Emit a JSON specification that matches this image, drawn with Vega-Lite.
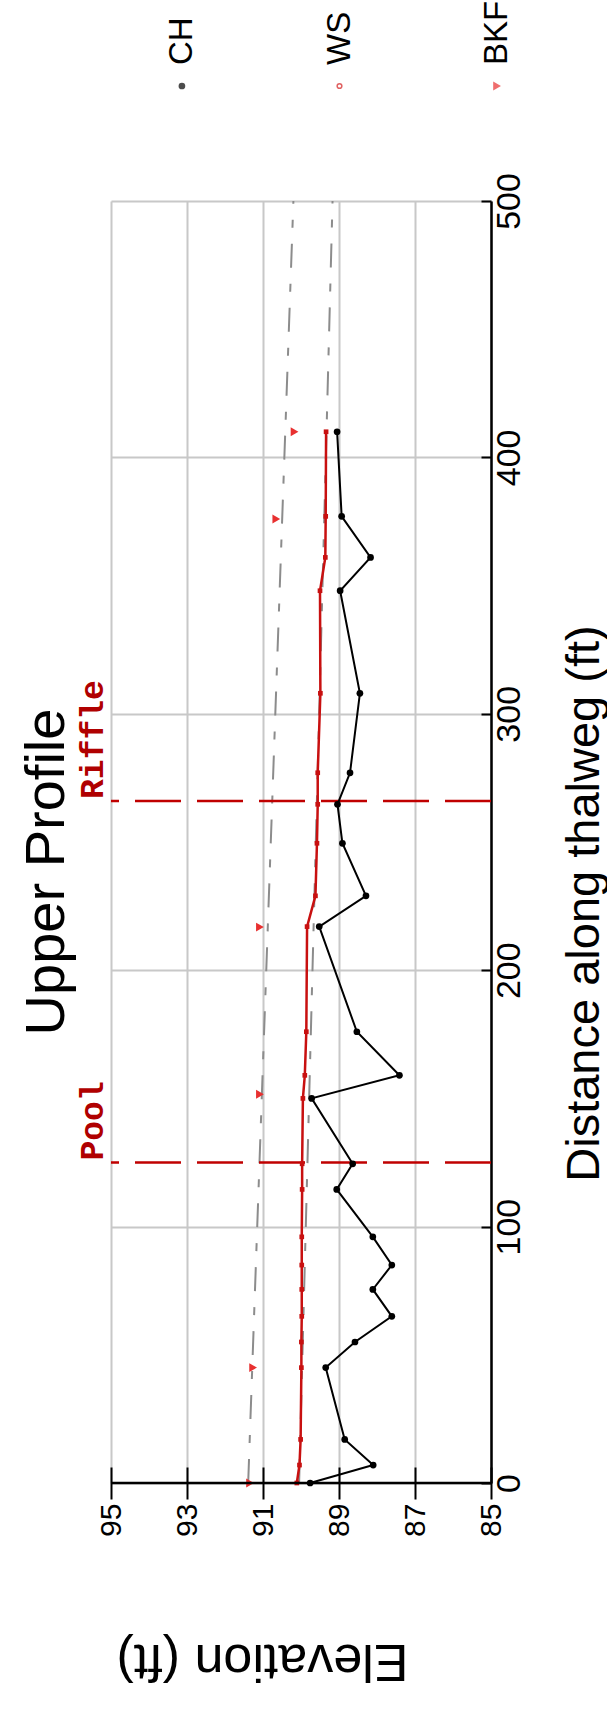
{
  "$schema": "https://vega.github.io/schema/vega-lite/v6.json",
  "padding": {"left": 19, "top": 0, "right": 0, "bottom": 0},
  "background": "white",
  "config": {
    "view": {"stroke": null},
    "font": "Liberation Sans",
    "concat": {"spacing": 35}
  },
  "datasets": {
    "prof": [
      {"s": "CH", "d": 0, "e": 89.76}, {"s": "CH", "d": 7, "e": 88.10}, {"s": "CH", "d": 17, "e": 88.85},
      {"s": "CH", "d": 45, "e": 89.35}, {"s": "CH", "d": 55, "e": 88.58}, {"s": "CH", "d": 65, "e": 87.61},
      {"s": "CH", "d": 75.5, "e": 88.11}, {"s": "CH", "d": 85, "e": 87.61}, {"s": "CH", "d": 96, "e": 88.11},
      {"s": "CH", "d": 114.5, "e": 89.06}, {"s": "CH", "d": 124.5, "e": 88.64}, {"s": "CH", "d": 150, "e": 89.72},
      {"s": "CH", "d": 159, "e": 87.41}, {"s": "CH", "d": 176, "e": 88.53}, {"s": "CH", "d": 217, "e": 89.52},
      {"s": "CH", "d": 229, "e": 88.29}, {"s": "CH", "d": 249.5, "e": 88.91}, {"s": "CH", "d": 264.7, "e": 89.04},
      {"s": "CH", "d": 277, "e": 88.71}, {"s": "CH", "d": 308, "e": 88.45}, {"s": "CH", "d": 348, "e": 88.97},
      {"s": "CH", "d": 361, "e": 88.17}, {"s": "CH", "d": 377, "e": 88.93}, {"s": "CH", "d": 410, "e": 89.05},
      {"s": "WS", "d": 0, "e": 90.11}, {"s": "WS", "d": 7, "e": 90.04}, {"s": "WS", "d": 17, "e": 90.01},
      {"s": "WS", "d": 45, "e": 89.99}, {"s": "WS", "d": 55, "e": 89.99}, {"s": "WS", "d": 65, "e": 89.98},
      {"s": "WS", "d": 75.5, "e": 89.98}, {"s": "WS", "d": 85, "e": 89.98}, {"s": "WS", "d": 96, "e": 89.98},
      {"s": "WS", "d": 114.5, "e": 89.97}, {"s": "WS", "d": 124.5, "e": 89.97}, {"s": "WS", "d": 150, "e": 89.95},
      {"s": "WS", "d": 159, "e": 89.9}, {"s": "WS", "d": 176, "e": 89.86}, {"s": "WS", "d": 217, "e": 89.84},
      {"s": "WS", "d": 229, "e": 89.62}, {"s": "WS", "d": 249.5, "e": 89.58}, {"s": "WS", "d": 264.7, "e": 89.56},
      {"s": "WS", "d": 277, "e": 89.56}, {"s": "WS", "d": 308, "e": 89.49}, {"s": "WS", "d": 348, "e": 89.5},
      {"s": "WS", "d": 361, "e": 89.36}, {"s": "WS", "d": 377, "e": 89.35}, {"s": "WS", "d": 410, "e": 89.34},
      {"s": "BKF", "d": 0, "e": 91.34}, {"s": "BKF", "d": 45, "e": 91.26}, {"s": "BKF", "d": 151.6, "e": 91.08},
      {"s": "BKF", "d": 216.8, "e": 91.08}, {"s": "BKF", "d": 376, "e": 90.65}, {"s": "BKF", "d": 410, "e": 90.17},
      {"s": "BKFfit", "d": 0, "e": 91.39}, {"s": "BKFfit", "d": 500, "e": 90.2},
      {"s": "WSfit", "d": 0, "e": 90.05}, {"s": "WSfit", "d": 500, "e": 89.17}
    ],
    "features": [{"label": "Pool", "d": 125}, {"label": "Riffle", "d": 266}],
    "legend": [{"s": "CH"}, {"s": "WS"}, {"s": "BKF"}]
  },
  "bounds": "flush",
  "vconcat": [
    {
      "width": 457,
      "height": 160,
      "data": {"name": "legend"},
      "encoding": {
        "x": {"field": "s", "type": "nominal", "scale": {"type": "point", "domain": ["CH", "WS", "BKF"], "padding": 0.45}, "axis": null}
      },
      "layer": [
        {"transform": [{"filter": "datum.s == 'CH'"}], "mark": {"type": "point", "shape": "circle", "filled": true, "color": "black", "size": 45}},
        {"transform": [{"filter": "datum.s == 'WS'"}], "mark": {"type": "point", "shape": "circle", "filled": false, "color": "#d42020", "size": 22, "strokeWidth": 1.5}},
        {"transform": [{"filter": "datum.s == 'BKF'"}], "mark": {"type": "point", "shape": "triangle-right", "filled": true, "color": "#e83030", "size": 80}},
        {"mark": {"type": "text", "angle": 270, "align": "left", "baseline": "middle", "dx": 21, "fontSize": 33, "font": "Liberation Sans", "color": "black"},
         "encoding": {"text": {"field": "s"}}}
      ]
    },
    {
      "width": 380,
      "height": 1282,
      "title": {"text": "Upper Profile", "orient": "left", "anchor": "middle", "frame": "group", "fontSize": 56, "font": "Liberation Sans", "fontWeight": "normal", "color": "black", "offset": 1, "dx": -30},
      "layer": [
        {"data": {"name": "prof"},
         "transform": [{"filter": "datum.s == 'BKFfit'"}], "mark": {"type": "line", "color": "#8c8c8c", "strokeWidth": 2, "strokeDash": [24, 16, 8, 16]},
         "encoding": {
          "x": {"field": "e", "type": "quantitative",
                "scale": {"domain": [85, 95], "reverse": true, "nice": false, "zero": false},
                "axis": {"orient": "bottom", "values": [85, 87, 89, 91, 93, 95], "format": "d",
                         "labelAngle": 270, "labelAlign": "right", "labelBaseline": "middle",
                         "labelFontSize": 30, "labelFont": "Liberation Sans", "labelColor": "black",
                         "tickSize": 32, "offset": -16, "tickColor": "black", "tickWidth": 2,
                         "domain": false, "labelPadding": 4,
                         "grid": true, "gridColor": "#c8c8c8", "gridWidth": 2,
                         "title": "Elevation (ft)", "titleAngle": 180, "titleFontSize": 52, "titleFont": "Liberation Sans",
                         "titleFontWeight": "normal", "titleColor": "black",
                         "titleX": 151, "titleY": 193, "titleAlign": "center", "titleBaseline": "middle"}},
          "y": {"field": "d", "type": "quantitative",
                "scale": {"domain": [0, 500], "nice": false, "zero": false},
                "axis": {"orient": "right", "values": [0, 100, 200, 300, 400, 500],
                         "labelAngle": 270, "labelAlign": "center", "labelBaseline": "top",
                         "labelFontSize": 34, "labelFont": "Liberation Sans", "labelColor": "black",
                         "tickSize": -10, "tickColor": "black", "tickWidth": 2, "labelPadding": 11,
                         "domain": true, "domainColor": "black", "domainWidth": 2.5,
                         "grid": true, "gridColor": "#c8c8c8", "gridWidth": 2,
                         "title": "Distance along thalweg (ft)", "titleAngle": 270, "titleFontSize": 47,
                         "titleFont": "Liberation Sans", "titleFontWeight": "normal", "titleColor": "black",
                         "titleX": 70, "titleY": 702, "titleAlign": "center", "titleBaseline": "top"}},
          "order": {"field": "d", "type": "quantitative"}}},
        {"data": {"name": "prof"},
         "transform": [{"filter": "datum.s == 'WSfit'"}], "mark": {"type": "line", "color": "#8c8c8c", "strokeWidth": 2, "strokeDash": [24, 16, 8, 16]},
         "encoding": {"x": {"field": "e", "type": "quantitative"}, "y": {"field": "d", "type": "quantitative"}, "order": {"field": "d", "type": "quantitative"}}},
        {"data": {"name": "features"},
         "mark": {"type": "rule", "color": "#c00000", "strokeWidth": 2.5, "strokeDash": [46, 16]},
         "encoding": {"y": {"field": "d", "type": "quantitative"}}},
        {"data": {"name": "prof"},
         "transform": [{"filter": "datum.s == 'WS'"}], "mark": {"type": "line", "color": "#c81010", "strokeWidth": 2.5},
         "encoding": {"x": {"field": "e", "type": "quantitative"}, "y": {"field": "d", "type": "quantitative"}, "order": {"field": "d", "type": "quantitative"}}},
        {"data": {"name": "prof"},
         "transform": [{"filter": "datum.s == 'WS'"}], "mark": {"type": "point", "shape": "square", "filled": true, "color": "#c81010", "size": 22, "opacity": 1},
         "encoding": {"x": {"field": "e", "type": "quantitative"}, "y": {"field": "d", "type": "quantitative"}}},
        {"data": {"name": "prof"},
         "transform": [{"filter": "datum.s == 'CH'"}], "mark": {"type": "line", "color": "black", "strokeWidth": 2},
         "encoding": {"x": {"field": "e", "type": "quantitative"}, "y": {"field": "d", "type": "quantitative"}, "order": {"field": "d", "type": "quantitative"}}},
        {"data": {"name": "prof"},
         "transform": [{"filter": "datum.s == 'CH'"}], "mark": {"type": "point", "shape": "circle", "filled": true, "color": "black", "size": 45, "opacity": 1},
         "encoding": {"x": {"field": "e", "type": "quantitative"}, "y": {"field": "d", "type": "quantitative"}}},
        {"data": {"name": "prof"},
         "transform": [{"filter": "datum.s == 'BKF'"}], "mark": {"type": "point", "shape": "triangle-right", "filled": true, "color": "#e83030", "size": 80, "opacity": 1},
         "encoding": {"x": {"field": "e", "type": "quantitative"}, "y": {"field": "d", "type": "quantitative"}}},
        {"data": {"name": "features"},
         "mark": {"type": "text", "angle": 270, "align": "left", "baseline": "alphabetic", "dx": 2, "fontSize": 33, "font": "Liberation Mono", "fontWeight": "bold", "color": "#b00000"},
         "encoding": {"x": {"datum": 95.2}, "y": {"field": "d", "type": "quantitative"}, "text": {"field": "label"}}},
        {"data": {"values": [{"d": 0}]}, "mark": {"type": "rule", "color": "black", "strokeWidth": 2.5},
         "encoding": {"y": {"field": "d", "type": "quantitative"}}}
      ]
    }
  ]
}
